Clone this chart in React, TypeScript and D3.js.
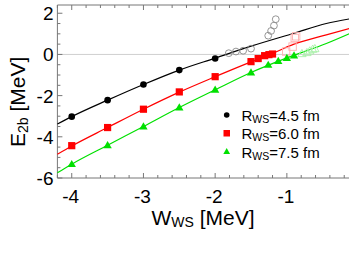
import React from 'react'
import * as d3 from 'd3'

// measured points
const blackX = [-4, -3.5, -3, -2.5, -2]
const blackY = [-3.02, -2.22, -1.46, -0.76, -0.2]
const redX = [-4, -3.5, -3, -2.5, -2, -1.5, -1.4, -1.31, -1.25, -1.2]
const redY = [-4.43, -3.55, -2.66, -1.82, -1.08, -0.35, -0.2, -0.06, -0.01, 0.02]
const greenX = [-4, -3.5, -3, -2.5, -2, -1.5, -1.26, -1.12, -1.0, -0.9]
const greenY = [-5.33, -4.41, -3.5, -2.58, -1.72, -0.88, -0.51, -0.32, -0.18, -0.06]

// open (faded) points
const openBlackX = [-1.81, -1.71, -1.61, -1.5, -1.26, -1.22, -1.18, -1.155]
const openBlackY = [0.06, 0.14, 0.18, 0.28, 0.91, 1.14, 1.4, 1.71]
const openRedX = [-1.01, -0.92, -0.89, -0.87]
const openRedY = [0.14, 0.38, 0.8, 0.88]
const openGreenX = [-0.79, -0.72, -0.68, -0.64, -0.61]
const openGreenY = [0.01, 0.06, 0.14, 0.22, 0.25]

// fitted curves
const blackLineX = [-4.2, -4, -3.5, -3, -2.5, -2, -1.5, -0.9, -0.45, -0.1]
const blackLineY = [-3.38, -3.02, -2.22, -1.46, -0.76, -0.18, 0.4, 1.03, 1.5, 1.74]
const redLineX = [-4.2, -4, -3.5, -3, -2.5, -2, -1.5, -1.2, -0.9, -0.45, -0.1]
const redLineY = [-4.85, -4.45, -3.55, -2.66, -1.83, -1.08, -0.36, 0.05, 0.5, 0.95, 1.28]
const greenLineX = [-4.2, -4, -3.5, -3, -2.5, -2, -1.5, -1.0, -0.45, -0.1]
const greenLineY = [-5.75, -5.33, -4.41, -3.5, -2.58, -1.72, -0.88, -0.17, 0.53, 1.05]

const xTicks = [-4, -3, -2, -1]
const yTicks = [-6, -4, -2, 0, 2]
const legendLabels = ['=4.5 fm', '=6.0 fm', '=7.5 fm']

const font = 'Arial, "Liberation Sans", sans-serif'
const axisColor = '#777'

export default function App() {
  const left = 57.4
  const top = 5
  const bottom = 178
  const right = 351.4

  const x = d3.scaleLinear().domain([-4.2, -0.1]).range([left, right])
  const y = d3.scaleLinear().domain([-6, 2.4]).range([bottom, top])

  const line = d3
    .line<[number, number]>()
    .x(d => x(d[0]))
    .y(d => y(d[1]))
    .curve(d3.curveMonotoneX)

  const zip = (a: number[], b: number[]) => a.map((v, i) => [v, b[i]] as [number, number])

  const xMinor = d3.range(-4.2, -0.1, 0.2)
  const yMinor = d3.range(-6, 2.41, 0.5)

  const tri = d3.symbol().type(d3.symbolTriangle)

  return (
    <svg width={349} height={270} style={{ position: 'absolute', left: 0, top: 0 }} fontFamily={font}>
      <rect width={349} height={270} fill="#fff" />
      {/* zero line */}
      <line x1={left} x2={right} y1={y(0)} y2={y(0)} stroke="#cfcfcf" strokeWidth={1} />

      {/* axes */}
      <line x1={left} x2={left} y1={top} y2={bottom} stroke={axisColor} />
      <line x1={left} x2={right} y1={bottom} y2={bottom} stroke={axisColor} />
      <line x1={left} x2={right} y1={top} y2={top} stroke={axisColor} />
      {xMinor.map((v, i) => {
        const major = xTicks.some(t => Math.abs(t - v) < 1e-6)
        const len = major ? 5 : 3
        return (
          <g key={'xt' + i}>
            <line x1={x(v)} x2={x(v)} y1={bottom} y2={bottom - len} stroke={axisColor} />
            <line x1={x(v)} x2={x(v)} y1={top} y2={top + len} stroke={axisColor} />
          </g>
        )
      })}
      {yMinor.map((v, i) => {
        const major = yTicks.some(t => Math.abs(t - v) < 1e-6)
        const len = major ? 5 : 3
        return <line key={'yt' + i} x1={left} x2={left + len} y1={y(v)} y2={y(v)} stroke={axisColor} />
      })}
      {xTicks.map(t => (
        <text key={'xl' + t} x={x(t) - 1} y={203} fontSize={19} textAnchor="middle" fill="#000">
          {t}
        </text>
      ))}
      {yTicks.map(t => (
        <text key={'yl' + t} x={53.5} y={y(t) + 7} fontSize={19} textAnchor="end" fill="#000">
          {t}
        </text>
      ))}

      {/* axis titles */}
      <text x={151.5} y={225} fontSize={21} fill="#000">
        W<tspan fontSize={14} dy={2}>WS</tspan>
        <tspan dy={-2}> [MeV]</tspan>
      </text>
      <text transform="translate(25,147) rotate(-90)" fontSize={21} fill="#000">
        E<tspan fontSize={14} dy={3}>2b</tspan>
        <tspan dy={-3}> [MeV]</tspan>
      </text>

      {/* curves */}
      <path d={line(zip(blackLineX, blackLineY)) || ''} fill="none" stroke="#000" strokeWidth={1.2} />
      <path d={line(zip(redLineX, redLineY)) || ''} fill="none" stroke="#ff0000" strokeWidth={1.2} />
      <path d={line(zip(greenLineX, greenLineY)) || ''} fill="none" stroke="#00e000" strokeWidth={1.2} />

      {/* open points */}
      {openBlackX.map((v, i) => (
        <circle key={'ob' + i} cx={x(v)} cy={y(openBlackY[i])} r={3.4} fill="none" stroke="#8a8a8a" strokeWidth={0.9} />
      ))}
      {openRedX.map((v, i) => (
        <rect key={'or' + i} x={x(v) - 3.7} y={y(openRedY[i]) - 3.7} width={7.4} height={7.4} fill="none" stroke="#ffb0b0" strokeWidth={0.9} />
      ))}
      {openGreenX.map((v, i) => (
        <path key={'og' + i} d={tri.size(30)() || ''} transform={`translate(${x(v)},${y(openGreenY[i])})`} fill="none" stroke="#a8f0a8" strokeWidth={0.9} />
      ))}

      {/* filled points */}
      {blackX.map((v, i) => (
        <circle key={'b' + i} cx={x(v)} cy={y(blackY[i])} r={3.3} fill="#000" />
      ))}
      {redX.map((v, i) => (
        <rect key={'r' + i} x={x(v) - 3.6} y={y(redY[i]) - 3.6} width={7.2} height={7.2} fill="#ff0000" />
      ))}
      {greenX.map((v, i) => (
        <path key={'g' + i} d={tri.size(30)() || ''} transform={`translate(${x(v)},${y(greenY[i]) + 0.5})`} fill="#00e000" />
      ))}

      {/* legend */}
      <circle cx={226.7} cy={115} r={2.8} fill="#000" />
      <rect x={223.5} y={130} width={6.5} height={6.5} fill="#ff0000" />
      <path d={tri.size(20)() || ''} transform="translate(226.7,152)" fill="#00e000" />
      {legendLabels.map((l, i) => (
        <text key={'lg' + i} x={241.5} y={120.7 + i * 18.7} fontSize={15} fill="#000">
          R<tspan fontSize={10.5} dy={2}>WS</tspan>
          <tspan dy={-2}>{l}</tspan>
        </text>
      ))}
    </svg>
  )
}
